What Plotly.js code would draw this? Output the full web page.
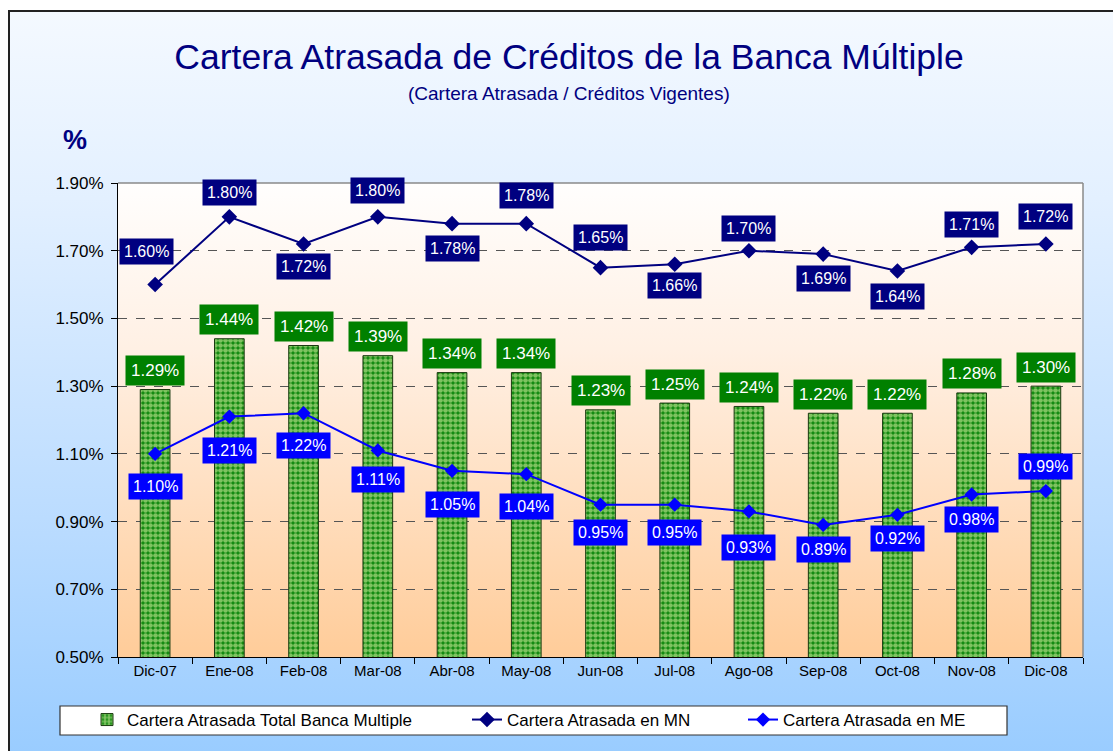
<!DOCTYPE html>
<html>
<head>
<meta charset="utf-8">
<script src="https://cdn.plot.ly/plotly-3.0.1.min.js"></script>
<style>
  html, body { margin:0; padding:0; background:#ffffff; overflow:hidden; }
  #bg { position:absolute; left:8px; top:10px; width:1110px; height:745px;
        border-left:2px solid #222; border-top:2px solid #222;
        background: linear-gradient(to bottom, #f4f9ff 0%, #e3f0ff 25%, #b9dbff 70%, #99ccff 100%); }
  #chart { position:absolute; left:0; top:0; width:1113px; height:751px; }
</style>
</head>
<body>
<div id="bg"></div>
<div id="chart"></div>
<script>
// ---- data ----
const categories = ['Dic-07','Ene-08','Feb-08','Mar-08','Abr-08','May-08','Jun-08','Jul-08','Ago-08','Sep-08','Oct-08','Nov-08','Dic-08'];
const totalBanca = [1.29,1.44,1.42,1.39,1.34,1.34,1.23,1.25,1.24,1.22,1.22,1.28,1.30];
const carteraMN  = [1.60,1.80,1.72,1.80,1.78,1.78,1.65,1.66,1.70,1.69,1.64,1.71,1.72];
const carteraME  = [1.10,1.21,1.22,1.11,1.05,1.04,0.95,0.95,0.93,0.89,0.92,0.98,0.99];
const yTicks = [0.5,0.7,0.9,1.1,1.3,1.5,1.7,1.9];

// ---- label placement (style) ----
const mnShift = [33,24,-23,26,-25,28,30,-21,22,-24,-25,23,27];
const mnXShift = [-9,0,0,0,0,0,0,0,0,0,0,0,0];
const meShift = [-33,-34,-32,-29,-34,-32,-28,-28,-36,-25,-24,-25,25];

const fmt = v => v.toFixed(2) + '%';
const FONT = 'Liberation Sans, Arial, sans-serif';
const W = 1113, H = 751, L = 118, R = 1083, T = 183, B = 657;
const px = x => (x - L) / (R - L);
const py = y => (B - y) / (B - T);

const traces = [
  {
    type:'bar', name:'Cartera Atrasada Total Banca Multiple', legend:'legend',
    x:categories, y:totalBanca, width:0.4,
    marker:{ color:'#008000',
      pattern:{ shape:'.', fgcolor:'#f4ffb8', bgcolor:'#0a860a', size:5, solidity:0.7, fillmode:'overlay' },
      line:{ color:'#1a3a10', width:1 } },
    hoverinfo:'skip'
  },
  {
    type:'scatter', mode:'lines+markers', name:'Cartera Atrasada en MN', legend:'legend2',
    x:categories, y:carteraMN,
    line:{ color:'#000080', width:2 },
    marker:{ symbol:'diamond', size:12, color:'#000080' },
    hoverinfo:'skip'
  },
  {
    type:'scatter', mode:'lines+markers', name:'Cartera Atrasada en ME', legend:'legend3',
    x:categories, y:carteraME,
    line:{ color:'#0000ff', width:2 },
    marker:{ symbol:'diamond', size:11, color:'#0000ff' },
    hoverinfo:'skip'
  }
];

const annotations = [];
categories.forEach((c,i) => {
  annotations.push({ x:c, y:totalBanca[i], xref:'x', yref:'y', yshift:19, showarrow:false,
    text:fmt(totalBanca[i]), bgcolor:'#008000', borderpad:5,
    font:{ family:FONT, size:17, color:'#ffffff' } });
  annotations.push({ x:c, y:carteraMN[i], xref:'x', yref:'y', yshift:mnShift[i], xshift:mnXShift[i], showarrow:false,
    text:fmt(carteraMN[i]), bgcolor:'#000080', borderpad:4,
    font:{ family:FONT, size:16, color:'#ffffff' } });
  annotations.push({ x:c, y:carteraME[i], xref:'x', yref:'y', yshift:meShift[i], showarrow:false,
    text:fmt(carteraME[i]), bgcolor:'#0000ff', borderpad:4,
    font:{ family:FONT, size:16, color:'#ffffff' } });
});
annotations.push({ xref:'paper', yref:'paper', x:px(569), y:py(93), xanchor:'center', yanchor:'middle', showarrow:false,
  text:'(Cartera Atrasada / Créditos Vigentes)', font:{ family:FONT, size:19, color:'#000080' } });
annotations.push({ xref:'paper', yref:'paper', x:px(75), y:py(140), xanchor:'center', yanchor:'middle', showarrow:false,
  text:'<b>%</b>', font:{ family:FONT, size:27, color:'#000080' } });

const gradSvg = '<svg xmlns="http://www.w3.org/2000/svg" width="100" height="100" preserveAspectRatio="none">' +
  '<defs><linearGradient id="g" x1="0" y1="0" x2="0" y2="1">' +
  '<stop offset="0" stop-color="#fffefd"/><stop offset="0.35" stop-color="#fff0e4"/>' +
  '<stop offset="1" stop-color="#ffcc99"/></linearGradient></defs>' +
  '<rect width="100" height="100" fill="url(#g)"/></svg>';

const legendBase = { orientation:'h', xanchor:'left', yanchor:'middle', y:py(720),
  bgcolor:'rgba(0,0,0,0)', borderwidth:0,
  font:{ family:FONT, size:17, color:'#000000' } };

const layout = {
  width:W, height:H,
  margin:{ l:L, r:W-R, t:T, b:H-B },
  paper_bgcolor:'rgba(0,0,0,0)',
  plot_bgcolor:'rgba(0,0,0,0)',
  font:{ family:FONT, color:'#000000' },
  title:{ text:'Cartera Atrasada de Créditos de la Banca Múltiple',
    x:569/W, xref:'container', xanchor:'center',
    y:1-57/H, yref:'container', yanchor:'middle',
    font:{ family:FONT, size:35.5, color:'#000080' } },
  showlegend:true,
  legend: Object.assign({}, legendBase, { x:px(87) }),
  legend2: Object.assign({}, legendBase, { x:px(467) }),
  legend3: Object.assign({}, legendBase, { x:px(743) }),
  xaxis:{ type:'category', range:[-0.5,12.5], autorange:false, showline:true, linecolor:'#000000', linewidth:1,
    ticks:'outside', tickson:'boundaries', ticklen:6, tickcolor:'#000000',
    tickfont:{ family:FONT, size:15, color:'#000000' }, showgrid:false, zeroline:false,
    fixedrange:true },
  yaxis:{ range:[0.5,1.9], autorange:false, tickvals:yTicks, ticktext:yTicks.map(fmt),
    showline:true, linecolor:'#000000', linewidth:1,
    ticks:'outside', ticklen:6, tickcolor:'#000000', ticklabelstandoff:4,
    tickfont:{ family:FONT, size:17, color:'#000000' },
    showgrid:true, gridcolor:'#555555', griddash:'dash', gridwidth:1, zeroline:false, fixedrange:true },
  images:[{ source:'data:image/svg+xml;charset=utf-8,' + encodeURIComponent(gradSvg),
    xref:'paper', yref:'paper', x:0, y:1, sizex:1, sizey:1, xanchor:'left', yanchor:'top',
    sizing:'stretch', layer:'below' }],
  shapes:[
    { type:'line', xref:'paper', yref:'paper', x0:0, x1:1, y0:1, y1:1, line:{ color:'#8a8a8a', width:1.5 } },
    { type:'line', xref:'paper', yref:'paper', x0:1, x1:1, y0:0, y1:1, line:{ color:'#8a8a8a', width:1.5 } },
    { type:'rect', xref:'paper', yref:'paper', x0:px(60), x1:px(1007), y0:py(706), y1:py(735),
      fillcolor:'#ffffff', line:{ color:'#333333', width:1.2 }, layer:'above' }
  ],
  annotations:annotations
};

Plotly.newPlot('chart', traces, layout, { displayModeBar:false, staticPlot:true });
</script>
</body>
</html>
